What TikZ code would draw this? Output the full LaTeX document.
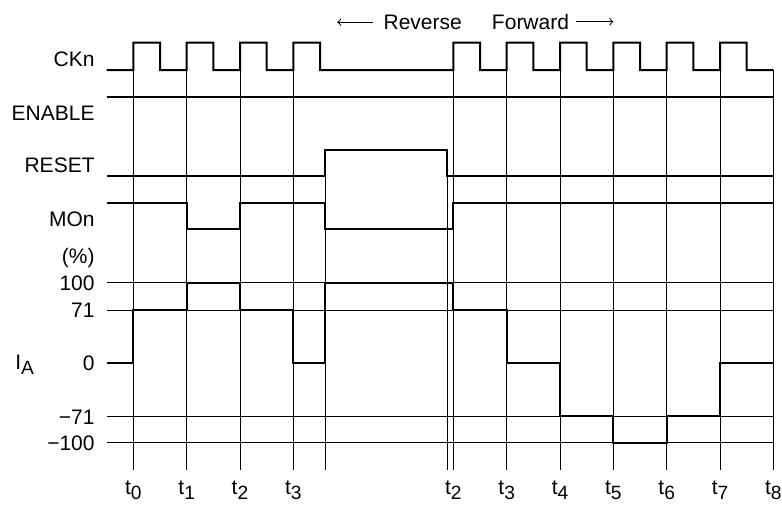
\documentclass[tikz,border=0pt]{standalone}
\usepackage{fontspec}
\setmainfont{Liberation Sans}
\newcommand{\subtx}[1]{\raisebox{-0.26em}{\fontsize{9.6}{10}\selectfont #1}}

\begin{document}
\begin{tikzpicture}[x=0.5pt,y=-0.5pt]
    \tikzstyle{every node}+=[inner sep=0pt, font=\fontsize{10.5}{12}\selectfont]
    \tikzstyle{sig}=[black, line width=1pt]
    \tikzstyle{grid}=[black, line width=0.5pt]
    \useasboundingbox (0,0) rectangle (782,504);
    % signal names and levels
    \node (ckn) [anchor=base east] at (95,66.7) {CKn};
    \node (enable) [anchor=base east] at (95,120) {ENABLE};
    \node (reset) [anchor=base east] at (95,172.7) {RESET};
    \node (mon) [anchor=base east] at (95,226.7) {MOn};
    \node (pct) [anchor=base east] at (95,263) {(\%)};
    \node (lvla) [anchor=base east] at (95,290.7) {100};
    \node (lvlb) [anchor=base east] at (95,317.3) {71};
    \node (lvlc) [anchor=base east] at (95,370.7) {0};
    \node (lvld) [anchor=base east] at (95,424) {−71};
    \node (lvle) [anchor=base east] at (95,450.7) {−100};
    \node (ia) [anchor=base west] at (15,369.3) {I\subtx{A}};
    % direction
    \node (rev) [anchor=base] at (422.7,29.3) {Reverse};
    \node (fwd) [anchor=base] at (530.5,29.3) {Forward};
    \draw [grid,-to] ([xshift=-5pt]rev.west) -- ([xshift=-23pt]rev.west);
    \draw [grid,-to] ([xshift=3.5pt]fwd.east) -- ([xshift=22pt]fwd.east);
    % time lines
    \foreach \x in {133.3,186.7,240,293.3,453.3,506.7,560,613.3,666.7,720}
        \draw [grid] (\x,42.7) -- (\x,470);
    \draw [grid] (325,150) -- (325,470);
    \draw [grid] (447.3,150) -- (447.3,470);
    \draw [grid] (773.3,70) -- (773.3,470);
    \foreach \x/\n in {133.3/0,186.7/1,240/2,293.3/3,453.3/2,506.7/3,560/4,613.3/5,666.7/6,720/7,773.3/8}
        \node (t\n x\x) [anchor=base] at (\x,494) {t\subtx{\n}};
    % level lines
    \foreach \y in {282.7,310,416,442.7}
        \draw [grid] (106.7,\y) -- (773.3,\y);
    % CKn
    \draw [sig] (106.7,70)
        \foreach \x in {133.3,186.7,240,293.3} { -- (\x,70) -- (\x,42.7) -- ++(26.7,0) -- ++(0,27.3) }
        \foreach \x in {453.3,506.7,560,613.3,666.7,720} { -- (\x,70) -- (\x,42.7) -- ++(26.7,0) -- ++(0,27.3) }
        -- (773.3,70);
    % ENABLE
    \draw [sig] (106.7,96.7) -- (773.3,96.7);
    % RESET
    \draw [sig] (106.7,176) -| (325,150) -| (447.3,176) -- (773.3,176);
    % MOn
    \draw [sig] (106.7,202.7) -| (186.7,229.3) -| (240,202.7) -| (325,229.3) -| (453.3,202.7) -- (773.3,202.7);
    % I_A
    \draw [sig] (106.7,362.7) -| (133.3,310) -| (186.7,282.7) -| (240,310) -| (293.3,362.7)
        -| (325,282.7) -| (453.3,310) -| (506.7,362.7) -| (560,416) -| (613.3,442.7)
        -| (666.7,416) -| (720,362.7) -- (773.3,362.7);
\end{tikzpicture}
\end{document}
